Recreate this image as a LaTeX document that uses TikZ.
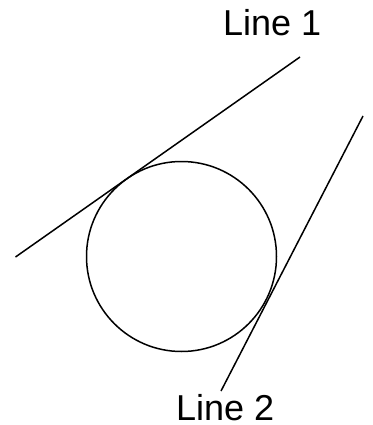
\documentclass[tikz,border=0pt]{standalone}
\usepackage{fontspec}
\setmainfont{Liberation Sans}
\begin{document}
\begin{tikzpicture}[x=1pt,y=-1pt,
  lbl/.style={inner sep=0pt,outer sep=0pt,anchor=base west,text depth=0pt,font=\fontsize{36}{40}\selectfont},
  ln/.style={line width=1.5pt},
  circ/.style={draw,circle,line width=1.5pt,minimum size=190pt,inner sep=0pt,outer sep=0pt}]
\useasboundingbox (0,0) rectangle (372,425);
\node[circ] (c) at (181.5,256.5) {};
\coordinate (a1) at (15.5,257);
\coordinate (a2) at (300,57);
\coordinate (b1) at (363,116);
\coordinate (b2) at (221,391);
\draw[ln] (a1) -- (a2);
\draw[ln] (b1) -- (b2);
\node[lbl] (l1) at (223,36) {Line 1};
\node[lbl] (l2) at (176,420) {Line 2};
\end{tikzpicture}
\end{document}
